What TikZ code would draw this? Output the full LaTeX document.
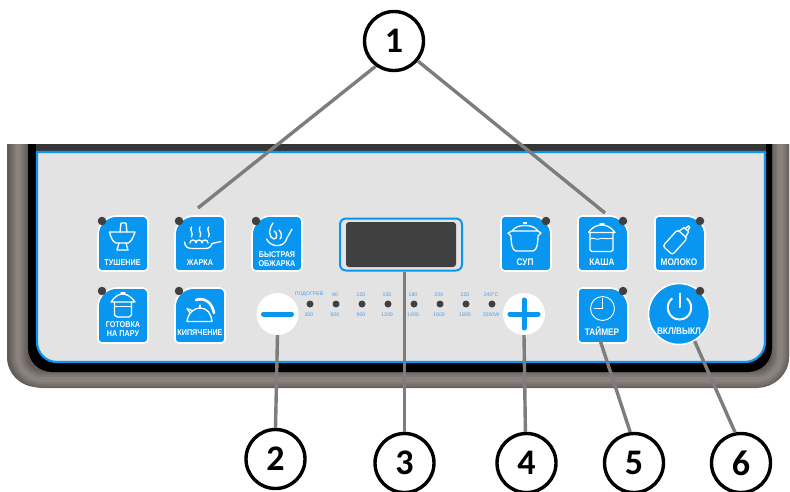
\documentclass[tikz,border=0pt]{standalone}
\usepackage{fontspec}
\setmainfont{Liberation Sans}
\newfontfamily\numfont{Carlito}
\newfontfamily\keyfont[FakeStretch=0.86]{Liberation Sans}
\definecolor{btnblue}{RGB}{8,150,240}
\definecolor{leddark}{RGB}{64,64,64}
\definecolor{panelgray}{RGB}{227,227,227}
\definecolor{connector}{RGB}{125,125,125}
\definecolor{smalltext}{RGB}{75,160,235}
\definecolor{hone}{RGB}{98,90,86}
\definecolor{htwo}{RGB}{108,100,96}
\definecolor{hthree}{RGB}{118,110,106}
\definecolor{hfour}{RGB}{128,120,116}
\definecolor{hfive}{RGB}{138,130,126}
\tikzset{
  x=1pt,y=-1pt,
  numcircle/.style={circle,draw=black,line width=3.4pt,fill=white,minimum size=59pt,inner sep=0pt,font=\numfont\bfseries\fontsize{36}{36}\selectfont},
  conn/.style={draw=connector,line width=3.4pt},
  led/.style={circle,fill=leddark,minimum size=8.5pt,inner sep=0pt},
  smallled/.style={circle,fill=leddark,minimum size=7pt,inner sep=0pt},
  btntext/.style={text=white,font=\keyfont\bfseries\fontsize{8.4}{9}\selectfont,inner sep=0pt},
  bigtext/.style={text=white,font=\keyfont\bfseries\fontsize{9.6}{10}\selectfont,inner sep=0pt},
  scaletext/.style={text=smalltext,font=\fontsize{5.2}{6}\selectfont,inner sep=0pt},
  ico/.style={draw=white,line width=1.3pt,line join=round,line cap=round},
  thinico/.style={draw=white,line width=.9pt,line cap=round},
  roundkey/.style={circle,fill=white,minimum size=42pt,inner sep=0pt},
  bar/.style={draw=btnblue,line width=5pt,line cap=round},
  bevel/.style={rounded corners=24pt,line cap=butt},
  leftkey/.pic={
    \path[fill=btnblue,draw=white,line width=1.6pt] (0,55) [rounded corners=4pt] -- (0,24) [rounded corners=19pt] -- (0,0) [rounded corners=5pt] -- (50,0) [rounded corners=4pt] -- (50,55) -- cycle;
  },
  rightkey/.pic={
    \path[fill=btnblue,draw=white,line width=1.6pt] (0,55) [rounded corners=4pt] -- (0,0) [rounded corners=4pt] -- (30,0) [rounded corners=19pt] -- (50,0) [rounded corners=4pt] -- (50,55) -- cycle;
  }
}
\begin{document}
\begin{tikzpicture}
\useasboundingbox (0,0) rectangle (790,491);
% housing
\fill[white] (0,0) rectangle (790,491);
\fill[hone] (7,144) {[rounded corners=30pt] -- (7,387) -- (789,387)} -- (789,144) -- cycle;
\draw[bevel,line width=17pt,draw=htwo] (18,144) -- (18,379.5) -- (780.5,379.5) -- (780.5,144);
\draw[bevel,line width=13pt,draw=hthree] (18,144) -- (18,379.5) -- (780.5,379.5) -- (780.5,144);
\draw[bevel,line width=9pt,draw=hfour] (18,144) -- (18,379.5) -- (780.5,379.5) -- (780.5,144);
\draw[bevel,line width=5pt,draw=hfive] (18,144) -- (18,379.5) -- (780.5,379.5) -- (780.5,144);
\fill[black] (28,144) {[rounded corners=24pt] -- (28,372) -- (772,372)} -- (772,144) -- cycle;
\fill[leddark!85!black] (36,144) rectangle (766,152);
\path[fill=panelgray,draw=btnblue,line width=2.2pt] (37,152) {[rounded corners=20pt] -- (37,362) -- (765,362)} -- (765,152) -- cycle;

% left keys
\pic at (98,216) {leftkey};
\pic at (175,216) {leftkey};
\pic at (252,216) {leftkey};
\pic at (98,288) {leftkey};
\pic at (175,288) {leftkey};
% right keys
\pic at (501,216) {rightkey};
\pic at (578,216) {rightkey};
\pic at (655,216) {rightkey};
\pic at (578,288) {rightkey};

% power key, round keys, display
\node[circle,fill=btnblue,draw=white,line width=1.6pt,minimum size=61pt,inner sep=0pt] (power) at (679,314) {};
\node[roundkey] (minus) at (277.5,314) {};
\node[roundkey] (plus) at (524,314) {};
\draw[bar] (minus.center) ++(-14,0) -- ++(28,0);
\draw[bar] (plus.center) ++(-14,0) -- ++(28,0);
\draw[bar] (plus.center) ++(0,-14) -- ++(0,28);
\node[draw=btnblue,line width=2pt,fill=panelgray,rounded corners=6pt,minimum width=122pt,minimum height=52pt,inner sep=0pt] (display) at (401,244.5) {};
\node[fill=leddark,rounded corners=3pt,minimum width=110pt,minimum height=45pt,inner sep=0pt] (screen) at (401,244.5) {};

% key indicators
\foreach \n/\x/\y in {a/102/221,b/179/221,c/256/221,d/102/291,e/179/291,f/546/221,g/623/221,h/700/221,i/623/291,j/700/291}
  \node[led] (dot\n) at (\x,\y) {};

% scale
\foreach \n/\x/\t/\b in {1/310/ПОДОГРЕВ/300,2/336/90/600,3/362/120/900,4/388/150/1200,5/414/180/1400,6/440/200/1600,7/466/220/1800,8/492/240°C/2000W}{
  \node[smallled] (sled\n) at (\x,304) {};
  \node[scaletext] (stop\n) at (\x-1,294.5) {\t};
  \node[scaletext] (sbot\n) at (\x-1,315) {\b};
}

% key texts
\node[btntext] (t1) at (122.5,262.5) {ТУШЕНИЕ};
\node[btntext] (t2) at (200,262.5) {ЖАРКА};
\node[btntext] (t3a) at (277,254.5) {БЫСТРАЯ};
\node[btntext] (t3b) at (277,264) {ОБЖАРКА};
\node[btntext] (t4a) at (123,325) {ГОТОВКА};
\node[btntext] (t4b) at (123,334) {НА ПАРУ};
\node[btntext] (t5) at (200,332.5) {КИПЯЧЕНИЕ};
\node[bigtext] (t6) at (525,262.5) {СУП};
\node[bigtext] (t7) at (602,262.5) {КАША};
\node[bigtext] (t8) at (679,262.5) {МОЛОКО};
\node[bigtext] (t9) at (602,331.5) {ТАЙМЕР};
\node[bigtext] (t10) at (679,331.5) {ВКЛ/ВЫКЛ};

% icon: stew
\draw[ico] (120,232) -- (121,223) -- (126,223) -- (127,232);
\draw[ico] (109.5,232) -- (135,232) .. controls (133,238) and (131,242) .. (128,243) -- (116,243) .. controls (113,242) and (111,238) .. (109.5,232);
\draw[ico] (119,243) -- (117,250) -- (128,250) -- (126,243);
% icon: frying
\foreach \x in {191.5,200,208.5}
  \draw[ico] (\x,227) .. controls (\x-2.5,230) and (\x+2.5,233) .. (\x,237);
\draw[ico] (184.5,242) .. controls (185,247) and (188,248.5) .. (192,248.5) -- (205,248.5) .. controls (209,248.5) and (211,247) .. (212,243.5) -- (221,241.5);
\draw[ico] (190,243) .. controls (190,239) and (196,239) .. (196,243) .. controls (196,239) and (202,239) .. (202,243) .. controls (202,239) and (208,239) .. (208,243);
% icon: quick fry
\draw[ico] (273,223) .. controls (268,230) and (269,238) .. (274,239) .. controls (278,239) and (277,232) .. (274,231);
\draw[ico] (279,230) .. controls (282,233) and (282,237) .. (280,239);
\draw[ico] (266.5,239) .. controls (270,247) and (284,249) .. (287,238) -- (292,229);
% icon: steam pot
\draw[ico] (111,302) -- (135,302) .. controls (131,296) and (126,294) .. (123,294) .. controls (119,294) and (115,296) .. (111,302);
\draw[ico] (114.5,302) -- (114.5,315) -- (117,317) -- (129,317) -- (131.5,315) -- (131.5,302);
\draw[thinico] (114.5,306) -- (131.5,306);
\draw[ico] (121,293) -- (125,293);
% icon: kettle
\draw[ico] (187,321.5) .. controls (188,313) and (194,308) .. (200,308) .. controls (207,308) and (211,313) .. (212,321.5) -- cycle;
\draw[ico] (190,313) -- (187,308.5) -- (192,310.5);
\draw[line width=2.6pt,draw=white,line cap=round] (196,300) .. controls (204,297) and (212,302) .. (214,313);
\draw[ico] (200,305) -- (200,308);
% icon: soup pot
\draw[ico] (512,231) .. controls (515,227) and (519,225.5) .. (525,225.5) .. controls (531,225.5) and (535,227) .. (538,231) -- cycle;
\draw[ico] (512,231) -- (508,233) -- (511,236) .. controls (511,243) and (512,250.5) .. (516,251) -- (533,251) .. controls (537,250.5) and (538,243) .. (538,236) -- (541,233) -- (538,231);
\draw[ico] (523.5,223) -- (526.5,223);
% icon: porridge pot
\draw[ico] (588.5,232.5) -- (615,232.5) .. controls (611,227) and (606,225) .. (602,225) .. controls (597,225) and (592,227) .. (588.5,232.5);
\draw[ico] (590,232.5) -- (590,250) -- (592,251.5) -- (611,251.5) -- (613,250) -- (613,232.5);
\draw[thinico] (590,239) .. controls (593,237) and (596,240) .. (599,239) .. controls (602,237) and (606,240) .. (613,238);
\draw[ico] (600,224) -- (604,224);
% icon: bottle
\begin{scope}[shift={(677,240)},rotate=-42]
\draw[ico,rounded corners=2.5pt] (-6.5,-8) -- (6.5,-8) -- (6.5,14) -- (-6.5,14) -- cycle;
\draw[ico] (-4.5,-8) -- (-3,-14) -- (3,-14) -- (4.5,-8);
\draw[ico] (-1.5,-14) -- (-1,-18) -- (1,-18) -- (1.5,-14);
\end{scope}
% icon: timer
\draw[thinico] (602.5,308.5) circle[radius=12];
\draw[thinico] (602.5,298.5) -- (602.5,308.5) -- (594,308.5);
% icon: power
\draw[line width=2pt,draw=white,line cap=round] (672,298.5) .. controls (664,305) and (668,319.5) .. (679.5,319.5) .. controls (691,319.5) and (695,305) .. (687,298.5);
\draw[line width=2pt,draw=white,line cap=round] (679.5,293.5) -- (679.5,307);

% numbered circles
\node[numcircle] (n1) at (394,41) {1};
\node[numcircle] (n2) at (275.5,459) {2};
\node[numcircle] (n3) at (404.5,463) {3};
\node[numcircle] (n4) at (526.5,463) {4};
\node[numcircle] (n5) at (634,463) {5};
\node[numcircle] (n6) at (741,463) {6};

% connector ends
\coordinate (fryend) at (198,208);
\coordinate (kashaend) at (605,213);
\coordinate (timerend) at (600,340);
\draw[conn] (n1.234) -- (fryend);
\draw[conn] (n1.-40) -- (kashaend);
\draw[conn] (minus.south) -- (n2.north);
\draw[conn] (display.south -| n3.north) -- (n3.north);
\draw[conn] (plus.south) -- (n4.92);
\draw[conn] (timerend) -- (n5.97);
\draw[conn] (power.-60) -- (n6.101);
\end{tikzpicture}
\end{document}
